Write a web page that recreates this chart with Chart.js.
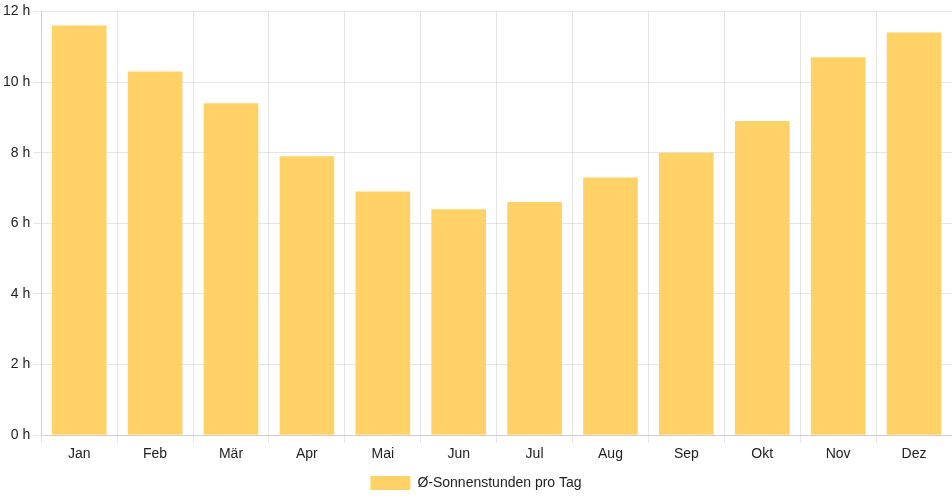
<!DOCTYPE html>
<html><head><meta charset="utf-8">
<script src="https://cdn.jsdelivr.net/npm/chart.js@4"></script>
<style>html,body{margin:0;padding:0;background:#fff}#w{width:952px;height:500px}</style>
</head><body><div id="w"><canvas id="c"></canvas></div>
<script>
const categories = ["Jan","Feb","Mär","Apr","Mai","Jun","Jul","Aug","Sep","Okt","Nov","Dez"];
const sunHours = [11.6,10.3,9.4,7.9,6.9,6.4,6.6,7.3,8.0,8.9,10.7,11.4];
const seriesLabel = "Ø-Sonnenstunden pro Tag";
const unit = " h";

Chart.defaults.font.family = "'Liberation Sans', Arial, sans-serif";
Chart.defaults.font.size = 14;
Chart.defaults.color = "#222";

new Chart(document.getElementById('c'), {
  type: 'bar',
  data: {
    labels: categories,
    datasets: [{
      label: seriesLabel,
      data: sunHours,
      backgroundColor: 'rgba(255,205,86,0.9)',
      borderWidth: 0
    }]
  },
  options: {
    responsive: true,
    maintainAspectRatio: false,
    animation: false,
    plugins: {
      legend: { position: 'bottom', labels: { boxWidth: 40, boxHeight: 14 } },
      tooltip: { enabled: false }
    },
    scales: {
      x: { grid: { color: 'rgba(0,0,0,0.1)' } },
      y: {
        min: 0, max: 12,
        ticks: { stepSize: 2, callback: v => v + unit },
        grid: { color: 'rgba(0,0,0,0.1)' }
      }
    }
  }
});
</script></body></html>
